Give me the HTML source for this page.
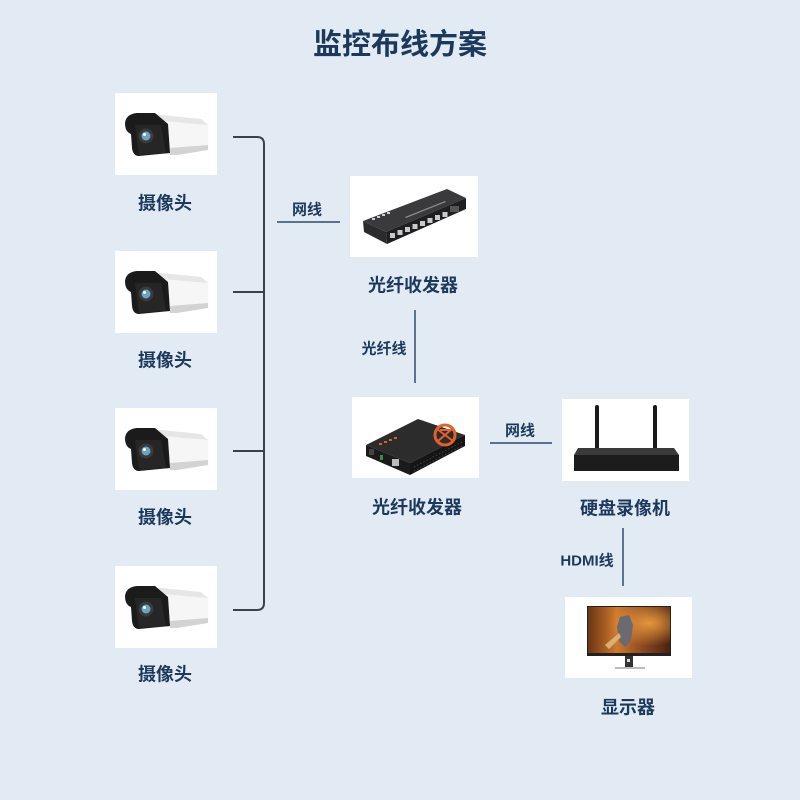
<!DOCTYPE html>
<html><head><meta charset="utf-8"><style>
html,body{margin:0;padding:0;background:#e2ebf4;}
svg{display:block;}
text{font-family:"Liberation Sans","Noto Sans CJK SC",sans-serif;font-weight:700;fill:#1c395c;}
</style></head><body>
<svg width="800" height="800" viewBox="0 0 800 800" xmlns="http://www.w3.org/2000/svg">
<defs>
<linearGradient id="scr" x1="0" y1="0" x2="1" y2="0">
<stop offset="0" stop-color="#6a3414"/><stop offset="0.35" stop-color="#d07a2c"/><stop offset="0.6" stop-color="#9a5224"/><stop offset="1" stop-color="#4a2210"/>
</linearGradient>
<radialGradient id="glow" cx="0.75" cy="0.35" r="0.5"><stop offset="0" stop-color="#f0a040" stop-opacity="0.9"/><stop offset="1" stop-color="#f0a040" stop-opacity="0"/></radialGradient>
<g id="cam">
<rect x="0" y="0" width="102" height="82" fill="#fff"/>
<polygon points="36,21 86,26 93,32 93,57 62,62 52,62" fill="#f6f6f6"/>
<polygon points="36,21 86,26 93,32 48,28" fill="#e6e6e6"/>
<polygon points="55,55 93,52 93,57 62,62 55,62" fill="#d3d3d3"/>
<path d="M10,30 Q11,21 22,20 L40,20 L53,31 L55,60 L24,63 Q18,63 17,55 L16,41 Q10,39 10,30 Z" fill="#1b1b1b"/>
<polygon points="20,32 46,32 51,60 24,62" fill="#262626"/>
<circle cx="31" cy="43" r="7.5" fill="#3a3a3a"/>
<circle cx="31" cy="43" r="4.5" fill="#6aa3c6"/>
<circle cx="29.5" cy="41.5" r="1.5" fill="#fff"/>
</g>
</defs>

<text x="400" y="54" font-size="29" text-anchor="middle">监控布线方案</text>

<!-- cameras -->
<use href="#cam" x="115" y="93"/>
<use href="#cam" x="115" y="251"/>
<use href="#cam" x="115" y="408"/>
<use href="#cam" x="115" y="566"/>
<text x="165" y="209.5" font-size="18" text-anchor="middle">摄像头</text>
<text x="165" y="366.5" font-size="18" text-anchor="middle">摄像头</text>
<text x="165" y="523.5" font-size="18" text-anchor="middle">摄像头</text>
<text x="165" y="680.5" font-size="18" text-anchor="middle">摄像头</text>

<!-- bracket -->
<path d="M233,137 L257,137 Q264,137 264,144 L264,603 Q264,610 257,610 L233,610" fill="none" stroke="#3b4148" stroke-width="2"/>
<line x1="233" y1="292" x2="264" y2="292" stroke="#3b4148" stroke-width="2"/>
<line x1="233" y1="451" x2="264" y2="451" stroke="#3b4148" stroke-width="2"/>

<!-- 网线 1 -->
<line x1="277" y1="222" x2="340" y2="222" stroke="#2d4b6c" stroke-width="1.5"/>
<text x="307" y="214.5" font-size="15" text-anchor="middle">网线</text>

<!-- switch -->
<g transform="translate(350,176)">
<rect x="0" y="0" width="128" height="81" fill="#fff"/>
<polygon points="13,45 97,13 116,22 36,56" fill="#3a3a3d"/>
<polygon points="36,56 116,22 116,33 37,68" fill="#1f1f21"/>
<polygon points="13,45 36,56 37,68 14,56" fill="#2b2b2d"/>
<g fill="#c9c9c9">
<rect x="40" y="57" width="5" height="5"/><rect x="47.5" y="54" width="5" height="5"/><rect x="55" y="51" width="5" height="5"/><rect x="62.5" y="48" width="5" height="5"/>
<rect x="70" y="45" width="5" height="5"/><rect x="77.5" y="42" width="5" height="5"/><rect x="85" y="39" width="5" height="5"/><rect x="92.5" y="36" width="5" height="5"/>
</g>
<rect x="100" y="30" width="9" height="6" fill="#555"/>
<g fill="#cfcfcf"><rect x="22" y="42" width="3" height="2"/><rect x="27" y="40" width="3" height="2"/><rect x="32" y="38" width="3" height="2"/><rect x="37" y="36" width="3" height="2"/></g>
<polygon points="55,41 95,25 96,26 56,42" fill="#8a8a8a"/>
</g>
<text x="413" y="291.5" font-size="18" text-anchor="middle">光纤收发器</text>

<!-- 光纤线 -->
<line x1="415" y1="310" x2="415" y2="383" stroke="#2d4b6c" stroke-width="1.5"/>
<text x="384" y="353.5" font-size="15" text-anchor="middle">光纤线</text>

<!-- media converter -->
<g transform="translate(352,397)">
<rect x="0" y="0" width="127" height="81" fill="#fff"/>
<polygon points="14,48 66,22 113,38 58,66" fill="#2c2c2c"/>
<polygon points="14,48 58,66 58,78 14,59" fill="#1b1b1b"/>
<polygon points="58,66 113,38 113,49 58,78" fill="#151515"/>
<g stroke="#444" stroke-width="1" stroke-dasharray="1.5,2"><line x1="62" y1="70" x2="110" y2="45"/><line x1="62" y1="74" x2="110" y2="49"/></g>
<rect x="40" y="62" width="7" height="7" fill="#bbb"/>
<rect x="28" y="58" width="3" height="5" fill="#3a8a4a"/>
<rect x="17" y="52" width="5" height="6" fill="#444"/>
<circle cx="93" cy="38" r="10" fill="none" stroke="#e2602a" stroke-width="3"/>
<path d="M85,32 L101,44 M86,44 L100,32 M88,33 L98,33" stroke="#e2602a" stroke-width="2"/>
<g fill="#d9602a"><rect x="27" y="46" width="3" height="2"/><rect x="32" y="44" width="3" height="2"/><rect x="37" y="42" width="3" height="2"/><rect x="42" y="40" width="3" height="2"/></g>
</g>
<text x="417" y="513.5" font-size="18" text-anchor="middle">光纤收发器</text>

<!-- 网线 2 -->
<line x1="490" y1="443" x2="552" y2="443" stroke="#2d4b6c" stroke-width="1.5"/>
<text x="520" y="435.5" font-size="15" text-anchor="middle">网线</text>

<!-- NVR -->
<g transform="translate(562,399)">
<rect x="0" y="0" width="127" height="82" fill="#fff"/>
<rect x="33" y="6" width="4" height="47" rx="2" fill="#1a1a1a"/>
<rect x="91" y="6" width="4" height="47" rx="2" fill="#1a1a1a"/>
<polygon points="16,49 112,49 117,56 12,56" fill="#3a3a3a"/>
<rect x="12" y="56" width="105" height="16" fill="#1c1c1c"/>
</g>
<text x="625" y="514.5" font-size="18" text-anchor="middle">硬盘录像机</text>

<!-- HDMI -->
<line x1="623" y1="528" x2="623" y2="586" stroke="#2d4b6c" stroke-width="1.5"/>
<text x="587" y="565.5" font-size="15" text-anchor="middle">HDMI线</text>

<!-- monitor -->
<g transform="translate(565,597)">
<rect x="0" y="0" width="127" height="81" fill="#fff"/>
<rect x="22" y="9" width="84" height="50" fill="#222"/>
<rect x="23" y="10" width="82" height="46" fill="url(#scr)"/>
<rect x="23" y="10" width="82" height="46" fill="url(#glow)"/>
<polygon points="55,20 64,18 68,28 66,44 60,50 54,44 52,30" fill="#6a6a70"/>
<polygon points="40,48 54,36 56,40 44,52" fill="#d8b070"/>
<rect x="60" y="59" width="8" height="12" fill="#333"/>
<rect x="62" y="62" width="3" height="3" fill="#ddd"/>
<rect x="50" y="70" width="30" height="2" fill="#bbb"/>
</g>
<text x="628" y="713.5" font-size="18" text-anchor="middle">显示器</text>
</svg>
</body></html>
